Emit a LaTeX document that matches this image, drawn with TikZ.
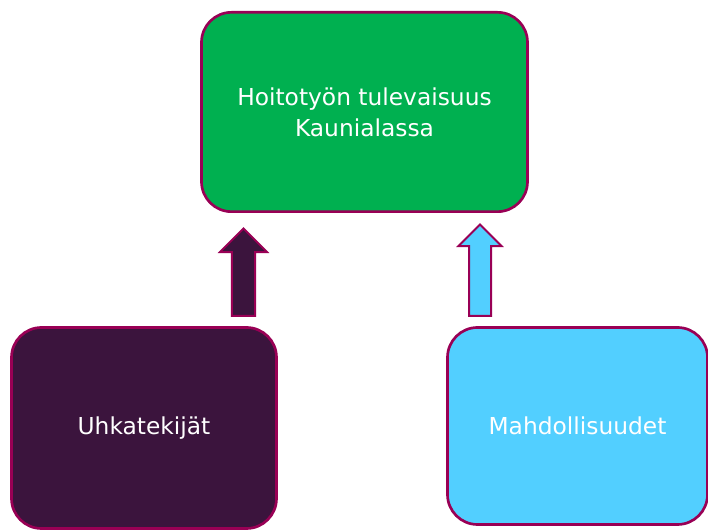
\documentclass[tikz,border=0pt]{standalone}
\usepackage{fontspec}
\setmainfont{DejaVu Sans}
\usetikzlibrary{shapes.arrows}
\definecolor{vihrea}{RGB}{0,176,80}
\definecolor{tumma}{RGB}{59,20,61}
\definecolor{vaalea}{RGB}{82,207,255}
\definecolor{reuna}{RGB}{153,0,85}
\tikzset{
  laatikko/.style={draw=reuna, line width=2pt, rounded corners=22.5pt, text=white,
    align=center, inner sep=0pt, font=\fontsize{17.5}{23.25}\selectfont},
  nuoli/.style={single arrow, draw=reuna, line width=1.5pt, rotate=90, anchor=tip,
    inner xsep=0pt, outer sep=0pt, single arrow head indent=0pt}
}
\begin{document}
\begin{tikzpicture}[x=0.75pt, y=0.75pt]
\useasboundingbox (0,0) rectangle (708,532);
% laatikot
\node[laatikko, fill=vihrea, minimum width=244.5pt, minimum height=149.5pt] (tulevaisuus) at (364.5,420) {Hoitotyön tulevaisuus\\Kaunialassa};
\node[laatikko, fill=tumma, minimum width=198.75pt, minimum height=150.75pt] (uhat) at (144,104) {Uhkatekijät};
\node[laatikko, fill=vaalea, minimum width=195pt, minimum height=147.75pt] (mahdollisuudet) at (577.5,106) {Mahdollisuudet};
% nuolet
\node[nuoli, fill=tumma, inner ysep=7.9pt, single arrow head extend=9pt, minimum height=65.5pt] (nuoliV) at (243.5,303.5) {};
\node[nuoli, fill=vaalea, inner ysep=7.5pt, single arrow head extend=7.9pt, minimum height=68.5pt] (nuoliO) at (480,307.5) {};
\end{tikzpicture}
\end{document}
